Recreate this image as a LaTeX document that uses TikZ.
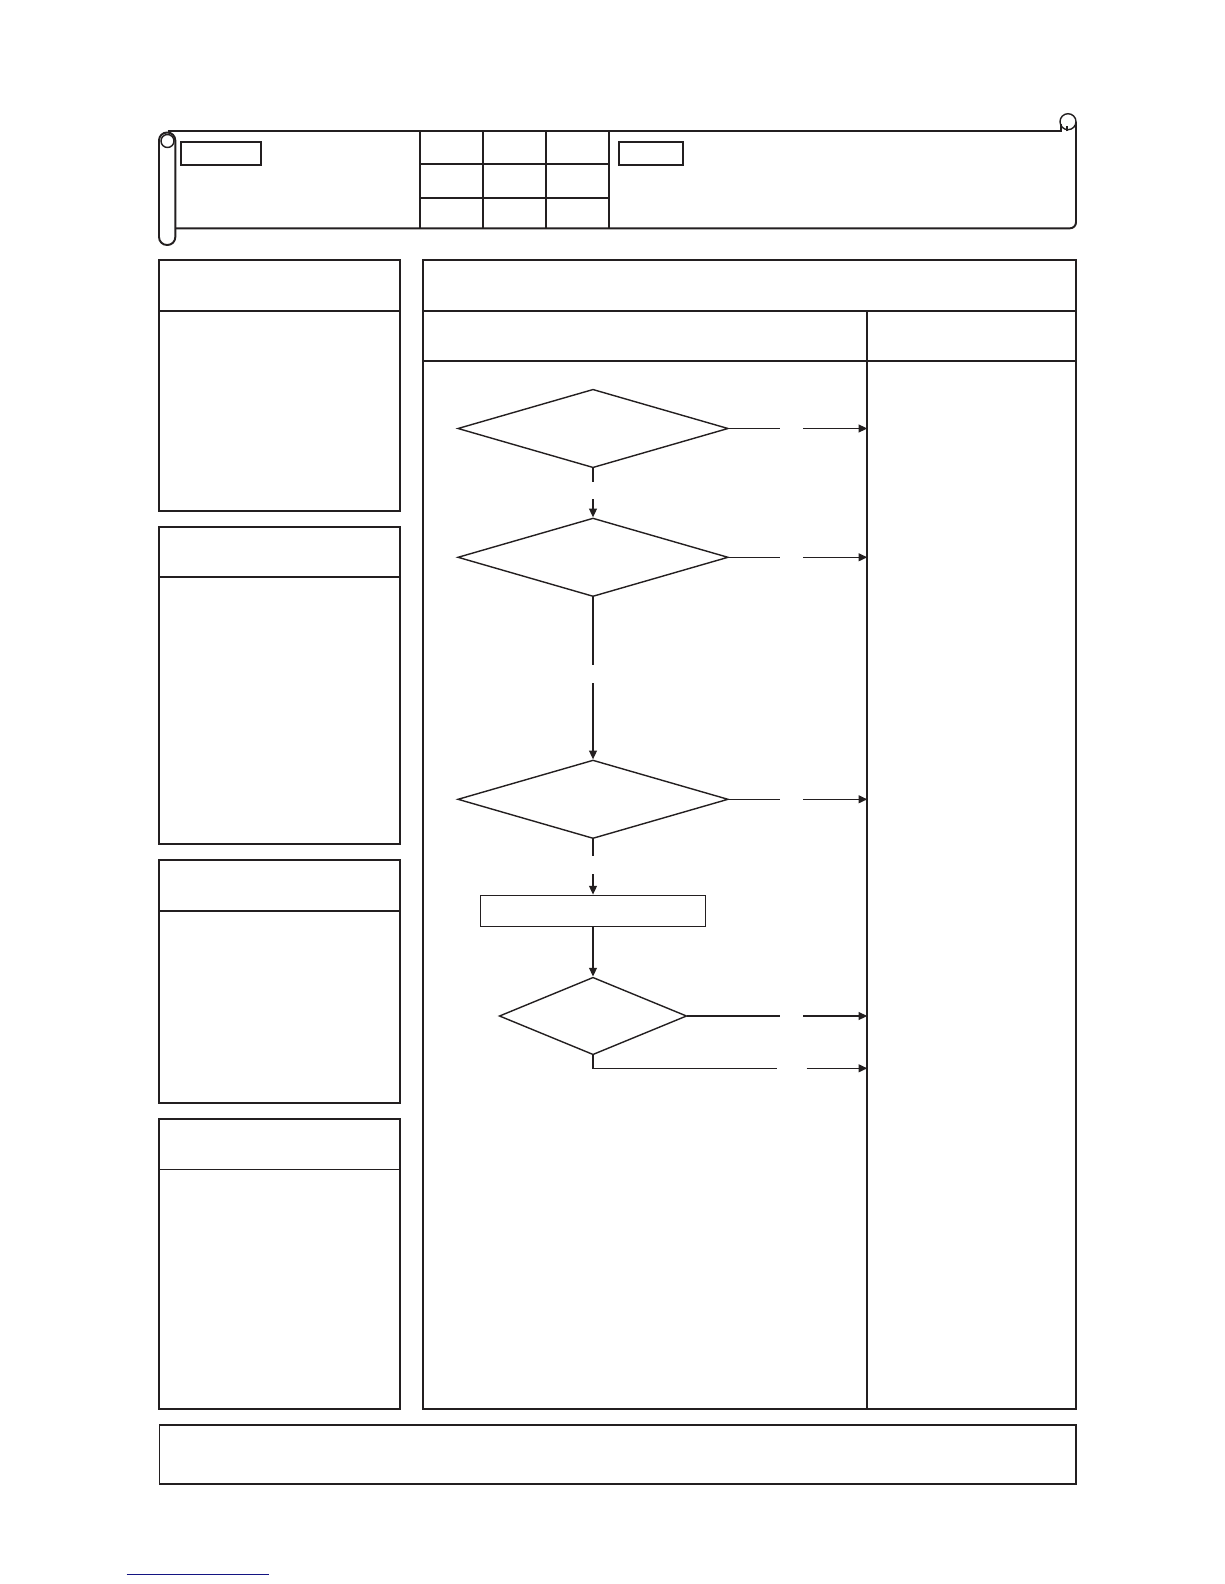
\documentclass[tikz,border=0pt]{standalone}
\usepackage{xcolor}
\usepackage{tikz}
\usetikzlibrary{shapes.geometric, arrows.meta}
\definecolor{mydark}{RGB}{35,31,32}
\definecolor{myblue}{RGB}{20,20,130}
\tikzset{
  frame/.style={draw=mydark, line width=1.1pt},
  curl/.style={draw=mydark, line width=0.8pt},
  decision/.style={diamond, draw=mydark, inner sep=0pt,
    minimum width=5.41cm, minimum height=1.57cm, line width=0.8pt},
  smalldecision/.style={decision, minimum width=3.75cm, minimum height=1.55cm},
  process/.style={rectangle, draw=mydark, inner sep=0pt,
    minimum width=4.49cm, minimum height=0.62cm, line width=0.8pt},
  arrow/.style={-{Triangle[length=5pt, width=4.5pt]}, line width=0.8pt, color=mydark},
  line/.style={line width=0.8pt, color=mydark}
}

\begin{document}
\begin{tikzpicture}[x=0.02cm, y=-0.02cm]
  \useasboundingbox (0,0) rectangle (1224,1584);

  % header scroll
  \draw[frame, rounded corners=4.5pt] (159,132.5) rectangle (175.3,245);
  \draw[curl] (167.5,141) circle[radius=0.13cm];
  \draw[frame] (167.5,131.3) -- (1062,131.3);
  \draw[curl] (1068,121.7) circle[radius=0.16cm];
  \draw[curl] (1061,131.3) -- (1061,124) (1067,131.3) -- (1067,126);
  \draw[frame, rounded corners=3.4pt] (175.3,228.3) -- (1076,228.3) -- (1076,121.7);
  \foreach \x in {420.3,483.3,546.3,609.3}
    \draw[frame] (\x,131.3) -- (\x,228.3);
  \foreach \y in {164.3,198.3}
    \draw[frame] (420.3,\y) -- (609.3,\y);
  \draw[frame] (181.3,142.3) rectangle (261.3,165.3);
  \draw[frame] (619.3,142.3) rectangle (683.3,165.3);

  % left panels
  \foreach \t/\h/\b in {260.3/311.3/511.3, 527.3/577.3/844.3, 860.3/911.3/1103.3, 1119.3/1169.5/1409.3} {
    \draw[frame] (159.3,\t) rectangle (400.3,\b);
    \draw[frame] (159.3,\h) -- (400.3,\h);
  }

  % main panel
  \draw[frame] (422.7,260.3) rectangle (1076.3,1409.3);
  \draw[frame] (422.7,311.3) -- (1076.3,311.3);
  \draw[frame] (422.7,361.3) -- (1076.3,361.3);
  \draw[frame] (867.3,311.3) -- (867.3,1409.3);
  \draw[frame] (159.5,1425.3) rectangle (1076.3,1484.3);
  \draw[myblue, line width=0.8pt] (126.7,1574.7) -- (269,1574.7);

  % flow
  \node[decision] (d1) at (593,428.5) {};
  \node[decision] (d2) at (593,557.3) {};
  \node[decision] (d3) at (593,799.3) {};
  \node[process] (p1) at (593,910.8) {};
  \node[smalldecision] (d4) at (593,1016) {};

  \foreach \n/\y in {1/428.5, 2/557.3, 3/799.3, 4/1016} {
    \coordinate (gapa\n) at (780,\y);
    \coordinate (gapb\n) at (803.3,\y);
    \coordinate (res\n) at (867.3,\y);
    \draw[line] (d\n.east) -- (gapa\n);
    \draw[arrow] (gapb\n) -- (res\n);
  }

  \coordinate (v1a) at (593,481.7);
  \coordinate (v1b) at (593,499);
  \coordinate (v2a) at (593,665);
  \coordinate (v2b) at (593,683.3);
  \coordinate (v3a) at (593,855.7);
  \coordinate (v3b) at (593,874.3);
  \draw[line] (d1.south) -- (v1a);
  \draw[arrow] (v1b) -- (d2.north);
  \draw[line] (d2.south) -- (v2a);
  \draw[arrow] (v2b) -- (d3.north);
  \draw[line] (d3.south) -- (v3a);
  \draw[arrow] (v3b) -- (p1.north);
  \draw[arrow] (p1.south) -- (d4.north);

  \coordinate (gapa5) at (777.3,1068.3);
  \coordinate (gapb5) at (806.7,1068.3);
  \coordinate (res5) at (867.3,1068.3);
  \draw[line] (d4.south) |- (gapa5);
  \draw[arrow] (gapb5) -- (res5);
\end{tikzpicture}
\end{document}
